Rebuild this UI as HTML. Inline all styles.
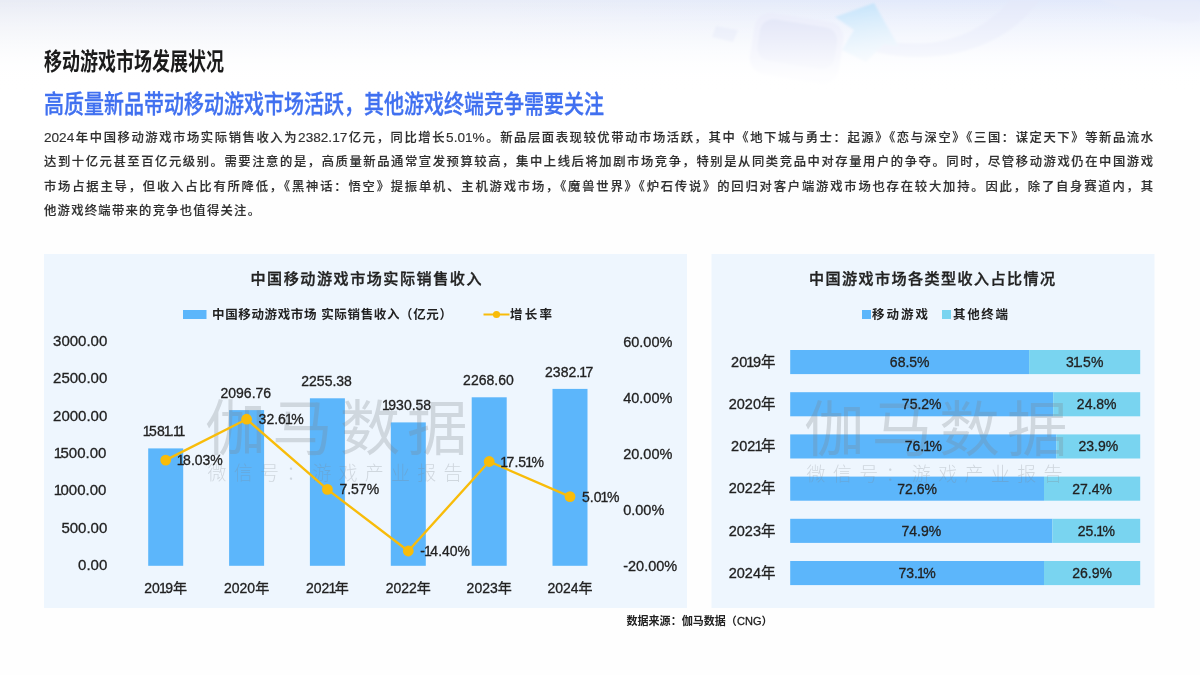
<!DOCTYPE html>
<html lang="zh-CN"><head><meta charset="utf-8"><title>移动游戏市场发展状况</title>
<style>
html,body{margin:0;padding:0;}
body{width:1200px;height:675px;overflow:hidden;position:relative;background:#fefefe;font-family:"Liberation Sans", "Noto Sans CJK SC", sans-serif;}
.bg{position:absolute;left:0;top:0;width:1200px;height:140px;background:linear-gradient(180deg,rgba(255,255,255,0) 0px,rgba(255,255,255,0.45) 40px,rgba(255,255,255,0.85) 72px,#fff 100px),linear-gradient(90deg,#e9ecf5 0px,#e9edf8 500px,#e3eafb 900px,#e2e9fb 1200px);}
.t1{position:absolute;left:44px;top:45px;font-size:24px;font-weight:700;color:#1b1b1b;white-space:nowrap;line-height:34px;transform-origin:0 50%;transform:scaleX(0.75);}
.t2{position:absolute;left:44px;top:86px;font-size:25px;font-weight:500;color:#4070f0;-webkit-text-stroke:0.35px #4070f0;white-space:nowrap;line-height:36px;transform-origin:0 50%;transform:scaleX(0.8);}
.bl{position:absolute;left:44px;width:1109px;height:24px;line-height:24px;font-size:12.3px;font-weight:500;color:#303030;-webkit-text-stroke:0.15px #303030;white-space:nowrap;text-align:justify;text-align-last:justify;}
.bl.last{width:216px;}
.d{font-size:13.6px;line-height:1;}
svg{position:absolute;left:0;top:0;}
svg text{font-family:"Liberation Sans", "Noto Sans CJK SC", sans-serif;}
.ct{font-size:15.1px;font-weight:500;fill:#222;stroke:#222;stroke-width:0.35px;}
.lg{font-size:12.5px;font-weight:700;fill:#222;}
.ax{font-size:14px;fill:#222;stroke:#222;stroke-width:0.3px;}
.ax145{font-size:14.5px;fill:#222;stroke:#222;stroke-width:0.3px;}
.ax15{font-size:15px;fill:#222;stroke:#222;stroke-width:0.3px;}
</style></head><body>
<div class="bg"></div>
<svg class="deco" width="1200" height="110" viewBox="0 0 1200 110">
<defs>
<linearGradient id="fd" x1="0" y1="0" x2="0" y2="1"><stop offset="0" stop-color="#fff" stop-opacity="0"/><stop offset="0.4" stop-color="#fff" stop-opacity="0.5"/><stop offset="0.68" stop-color="#fff" stop-opacity="0.9"/><stop offset="0.85" stop-color="#fff" stop-opacity="1"/></linearGradient>
<linearGradient id="ar" x1="0" y1="0" x2="0.3" y2="1"><stop offset="0" stop-color="#bfe1fb"/><stop offset="1" stop-color="#e3f0fc"/></linearGradient>
<filter id="bl" x="-5%" y="-20%" width="110%" height="140%"><feGaussianBlur stdDeviation="1.2"/></filter>
</defs>
<g filter="url(#bl)"><g transform="rotate(9 796 46)"><rect x="752" y="17" width="90" height="62" rx="16" fill="#e7eafa"/><rect x="758" y="23" width="78" height="42" rx="13" fill="#dde1f6"/></g>
<path d="M716 26 L738 30 L733 42 L712 37 Z" fill="#e3e8f8"/>
<path d="M880 40 C930 50 975 40 1010 0 L1040 0 C1000 55 930 65 875 52 Z" fill="#e4e9fa"/>
<path d="M1100 0 C1130 10 1170 30 1200 20 L1200 0 Z" fill="#e6ebfa"/>
<path d="M835 17 L874 3 L899 47 L884 44 L866 62 L842 50 L854 30 Z" fill="url(#ar)"/>
</g><rect x="0" y="0" width="1200" height="110" fill="url(#fd)"/>
</svg>
<div class="t1">移动游戏市场发展状况</div>
<div class="t2">高质量新品带动移动游戏市场活跃，其他游戏终端竞争需要关注</div>
<div class="bl" style="top:125.5px"><span class=d>2024</span>年中国移动游戏市场实际销售收入为<span class=d>2382.17</span>亿元，同比增长<span class=d>5.01%</span>。新品层面表现较优带动市场活跃，其中《地下城与勇士：起源》《恋与深空》《三国：谋定天下》等新品流水</div>
<div class="bl" style="top:150.1px">达到十亿元甚至百亿元级别。需要注意的是，高质量新品通常宣发预算较高，集中上线后将加剧市场竞争，特别是从同类竞品中对存量用户的争夺。同时，尽管移动游戏仍在中国游戏</div>
<div class="bl" style="top:174.5px">市场占据主导，但收入占比有所降低，《黑神话：悟空》提振单机、主机游戏市场，《魔兽世界》《炉石传说》的回归对客户端游戏市场也存在较大加持。因此，除了自身赛道内，其</div>
<div class="bl last" style="top:199.1px">他游戏终端带来的竞争也值得关注。</div>

<svg width="1200" height="675" viewBox="0 0 1200 675">
<rect x="44" y="254" width="643" height="354" fill="#eef6fe"/>
<rect x="711.5" y="254" width="443" height="354" fill="#eef6fe"/>
<text x="366" y="284" text-anchor="middle" class="ct" textLength="231" lengthAdjust="spacing">中国移动游戏市场实际销售收入</text>
<rect x="183" y="310" width="23.5" height="9" fill="#5cb6fb"/>
<text x="212" y="318.7" class="lg" textLength="240" lengthAdjust="spacing">中国移动游戏市场 实际销售收入（亿元）</text>
<line x1="483.5" y1="314.5" x2="509.5" y2="314.5" stroke="#f8bc0a" stroke-width="2"/>
<circle cx="496.5" cy="314.5" r="3.6" fill="#f8bc0a"/>
<text x="510" y="318.7" class="lg" textLength="42" lengthAdjust="spacing">增长率</text>
<text x="107.3" y="570.1" text-anchor="end" class="ax15">0.00</text>
<text x="107.3" y="532.8" text-anchor="end" class="ax15">500.00</text>
<text x="107.3" y="495.4" text-anchor="end" class="ax15" dx="-0.9 -1.5">1000.00</text>
<text x="107.3" y="458.1" text-anchor="end" class="ax15" dx="-0.9 -1.5">1500.00</text>
<text x="107.3" y="420.8" text-anchor="end" class="ax15">2000.00</text>
<text x="107.3" y="383.4" text-anchor="end" class="ax15">2500.00</text>
<text x="107.3" y="346.1" text-anchor="end" class="ax15">3000.00</text>
<text x="623.2" y="570.6" class="ax145">-20.00%</text>
<text x="623.2" y="514.6" class="ax145">0.00%</text>
<text x="623.2" y="458.7" class="ax145">20.00%</text>
<text x="623.2" y="402.7" class="ax145">40.00%</text>
<text x="623.2" y="346.8" class="ax145">60.00%</text>
<rect x="148.2" y="448.4" width="35" height="117.4" fill="#5cb6fb"/>
<rect x="229.1" y="410.1" width="35" height="155.7" fill="#5cb6fb"/>
<rect x="309.9" y="398.3" width="35" height="167.5" fill="#5cb6fb"/>
<rect x="390.8" y="422.4" width="35" height="143.4" fill="#5cb6fb"/>
<rect x="471.7" y="397.3" width="35" height="168.5" fill="#5cb6fb"/>
<rect x="552.5" y="388.9" width="35" height="176.9" fill="#5cb6fb"/>
<g fill="#7f858c" opacity="0.27">
<text x="205" y="449.8" font-size="60.5" font-weight="400" textLength="262.5" lengthAdjust="spacing">伽马数据</text>
<text x="207.5" y="480.3" font-size="19" font-weight="300" textLength="255.0" lengthAdjust="spacing">微信号：游戏产业报告</text>
</g>
<text x="164.9" y="436.1" text-anchor="middle" class="ax" dx="-0.9 -1.5 0 -0.9 -1.5 -0.9 -2.4">1581.11</text>
<text x="165.7" y="593" text-anchor="middle" class="ax" dx="0 0 -0.9 -1.5">2019年</text>
<text x="245.8" y="397.8" text-anchor="middle" class="ax">2096.76</text>
<text x="246.6" y="593" text-anchor="middle" class="ax">2020年</text>
<text x="326.6" y="386.0" text-anchor="middle" class="ax">2255.38</text>
<text x="327.4" y="593" text-anchor="middle" class="ax" dx="0 0 0 -0.9 -1.5">2021年</text>
<text x="407.5" y="410.1" text-anchor="middle" class="ax" dx="-0.9 -1.5">1930.58</text>
<text x="408.3" y="593" text-anchor="middle" class="ax">2022年</text>
<text x="488.4" y="385.0" text-anchor="middle" class="ax">2268.60</text>
<text x="489.2" y="593" text-anchor="middle" class="ax">2023年</text>
<text x="569.2" y="376.6" text-anchor="middle" class="ax" dx="0 0 0 0 0 -0.9 -1.5">2382.17</text>
<text x="570.0" y="593" text-anchor="middle" class="ax">2024年</text>
<polyline fill="none" stroke="#f8bc0a" stroke-width="2.35" stroke-linejoin="round" points="165.7,460.1 246.6,419.2 327.4,489.4 408.3,551.0 489.2,461.5 570.0,496.6"/>
<circle cx="165.7" cy="460.1" r="5.4" fill="#f8bc0a"/>
<text x="177.7" y="465.1" class="ax" dx="-0.9 -1.5">18.03%</text>
<circle cx="246.6" cy="419.2" r="5.4" fill="#f8bc0a"/>
<text x="258.6" y="424.2" class="ax" dx="0 0 0 0 -0.9 -1.5">32.61%</text>
<circle cx="327.4" cy="489.4" r="5.4" fill="#f8bc0a"/>
<text x="339.4" y="494.4" class="ax">7.57%</text>
<circle cx="408.3" cy="551.0" r="5.4" fill="#f8bc0a"/>
<text x="420.3" y="556.0" class="ax" dx="0 -0.9 -1.5">-14.40%</text>
<circle cx="489.2" cy="461.5" r="5.4" fill="#f8bc0a"/>
<text x="501.2" y="466.5" class="ax" dx="-0.9 -1.5 0 0 -0.9 -1.5">17.51%</text>
<circle cx="570.0" cy="496.6" r="5.4" fill="#f8bc0a"/>
<text x="582.0" y="501.6" class="ax" dx="0 0 0 -0.9 -1.5">5.01%</text>
<text x="932" y="284" text-anchor="middle" class="ct" textLength="246" lengthAdjust="spacing">中国游戏市场各类型收入占比情况</text>
<rect x="862" y="310" width="9" height="9" fill="#5cb6fb"/>
<text x="872" y="318.7" class="lg" textLength="56" lengthAdjust="spacing">移动游戏</text>
<rect x="942" y="310" width="9" height="9" fill="#79d4f0"/>
<text x="953" y="318.7" class="lg" textLength="55" lengthAdjust="spacing">其他终端</text>
<rect x="790.2" y="350.0" width="238.9" height="24.1" fill="#5cb6fb"/>
<rect x="1029.1" y="350.0" width="111.1" height="24.1" fill="#79d4f0"/>
<rect x="790.2" y="392.2" width="263.0" height="24.1" fill="#5cb6fb"/>
<rect x="1053.2" y="392.2" width="87.0" height="24.1" fill="#79d4f0"/>
<rect x="790.2" y="434.4" width="266.2" height="24.1" fill="#5cb6fb"/>
<rect x="1056.4" y="434.4" width="83.8" height="24.1" fill="#79d4f0"/>
<rect x="790.2" y="476.6" width="253.8" height="24.1" fill="#5cb6fb"/>
<rect x="1044.0" y="476.6" width="96.2" height="24.1" fill="#79d4f0"/>
<rect x="790.2" y="518.8" width="262.2" height="24.1" fill="#5cb6fb"/>
<rect x="1052.4" y="518.8" width="87.8" height="24.1" fill="#79d4f0"/>
<rect x="790.2" y="561.0" width="253.8" height="24.1" fill="#5cb6fb"/>
<rect x="1044.0" y="561.0" width="96.2" height="24.1" fill="#79d4f0"/>
<g fill="#7f858c" opacity="0.27">
<text x="804" y="450.6" font-size="60.5" font-weight="400" textLength="263.5" lengthAdjust="spacing">伽马数据</text>
<text x="806.5" y="481.1" font-size="19" font-weight="300" textLength="256.0" lengthAdjust="spacing">微信号：游戏产业报告</text>
</g>
<text x="775.5" y="366.8" text-anchor="end" class="ax145" dx="0 0 -0.9 -1.5">2019年</text>
<text x="909.7" y="366.9" text-anchor="middle" class="ax">68.5%</text>
<text x="1084.7" y="366.9" text-anchor="middle" class="ax" dx="0 -0.9 -1.5">31.5%</text>
<text x="775.5" y="408.9" text-anchor="end" class="ax145">2020年</text>
<text x="921.7" y="409.1" text-anchor="middle" class="ax">75.2%</text>
<text x="1096.7" y="409.1" text-anchor="middle" class="ax">24.8%</text>
<text x="775.5" y="451.1" text-anchor="end" class="ax145" dx="0 0 0 -0.9 -1.5">2021年</text>
<text x="923.3" y="451.2" text-anchor="middle" class="ax" dx="0 0 0 -0.9 -1.5">76.1%</text>
<text x="1098.3" y="451.2" text-anchor="middle" class="ax">23.9%</text>
<text x="775.5" y="493.4" text-anchor="end" class="ax145">2022年</text>
<text x="917.1" y="493.5" text-anchor="middle" class="ax">72.6%</text>
<text x="1092.1" y="493.5" text-anchor="middle" class="ax">27.4%</text>
<text x="775.5" y="535.5" text-anchor="end" class="ax145">2023年</text>
<text x="921.3" y="535.6" text-anchor="middle" class="ax">74.9%</text>
<text x="1096.3" y="535.6" text-anchor="middle" class="ax" dx="0 0 0 -0.9 -1.5">25.1%</text>
<text x="775.5" y="577.8" text-anchor="end" class="ax145">2024年</text>
<text x="917.1" y="577.8" text-anchor="middle" class="ax" dx="0 0 0 -0.9 -1.5">73.1%</text>
<text x="1092.1" y="577.8" text-anchor="middle" class="ax">26.9%</text>
<text x="626.5" y="625.2" font-size="11" font-weight="700" fill="#222" textLength="146" lengthAdjust="spacing">数据来源：伽马数据（<tspan font-weight="400" stroke="#222" stroke-width="0.3">CNG</tspan>）</text>
</svg>
</body></html>
